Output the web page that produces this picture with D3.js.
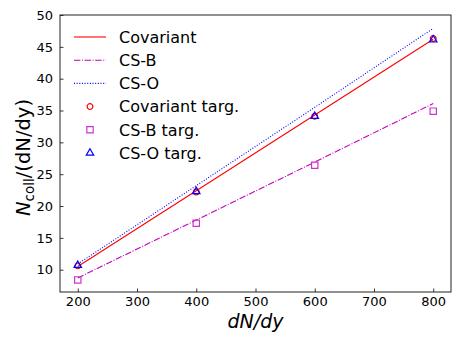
<!DOCTYPE html>
<html>
<head>
<meta charset="utf-8">
<script src="https://cdn.jsdelivr.net/npm/d3@7"></script>
<style>
  body { margin: 0; background: #fff; }
  text { font-family: "DejaVu Sans", sans-serif; }
</style>
</head>
<body>
<script>
// values
const xVals = [200, 400, 600, 800];
const covariantLine = [10.5, 22.4, 34.3, 46.2];
const csbLine = [8.7, 17.8, 26.9, 36.1];
const csoLine = [10.9, 23.2, 35.5, 47.9];
const covariantTarg = [10.6, 22.2, 34.1, 46.3];
const csbTarg = [8.4, 17.3, 26.4, 34.9];
const csoTarg = [10.7, 22.3, 34.1, 46.1];
const xTicks = [200, 300, 400, 500, 600, 700, 800];
const yTicks = [10, 15, 20, 25, 30, 35, 40, 45, 50];

const W = 463, H = 347;
const margin = {top: 15, left: 60, right: 12, bottom: 55};
const width = W - margin.left - margin.right;
const height = H - margin.top - margin.bottom;

const svg = d3.select("body").append("svg")
    .attr("width", W)
    .attr("height", H);
const g = svg.append("g")
    .attr("transform", "translate(" + margin.left + "," + margin.top + ")");

const x = d3.scaleLinear().domain([170, 830]).range([0, width]);
const y = d3.scaleLinear().domain([6.5, 50]).range([height, 0]);

// axes, ticks pointing in
const xAxis = d3.axisBottom(x).tickValues(xTicks).tickSize(-3.5).tickPadding(5);
const yAxis = d3.axisLeft(y).tickValues(yTicks).tickSize(-3.5).tickPadding(7);

g.append("g").attr("transform", "translate(0," + height + ")").call(xAxis)
  .call(a => a.select(".domain").remove())
  .call(a => a.selectAll("text").attr("font-size", 13).attr("fill", "#000").attr("font-family", "DejaVu Sans"));
g.append("g").call(yAxis)
  .call(a => a.select(".domain").remove())
  .call(a => a.selectAll("text").attr("font-size", 13).attr("fill", "#000").attr("font-family", "DejaVu Sans"));
g.selectAll(".tick line").attr("stroke", "#000").attr("stroke-width", 0.8);

g.append("rect")
  .attr("x", 0).attr("y", 0).attr("width", width).attr("height", height)
  .attr("fill", "none").attr("stroke", "#222").attr("stroke-width", 1);

const series = [
  {name: "Covariant", vals: covariantLine, color: "#ff0000", dash: null},
  {name: "CS-B", vals: csbLine, color: "#c000c0", dash: "6.4,1.6,1,1.6"},
  {name: "CS-O", vals: csoLine, color: "#0000ff", dash: "1,1.65"}
];

const line = d3.line().x(d => x(d[0])).y(d => y(d[1]));
series.forEach(s => {
  g.append("path")
    .datum(xVals.map((v, i) => [v, s.vals[i]]))
    .attr("d", line)
    .attr("fill", "none")
    .attr("stroke", s.color)
    .attr("stroke-width", 1.1)
    .attr("stroke-dasharray", s.dash);
});

const targs = [
  {name: "Covariant targ.", vals: covariantTarg, color: "#ff0000", sym: d3.symbolCircle, size: 26},
  {name: "CS-B targ.", vals: csbTarg, color: "#cc33cc", sym: d3.symbolSquare, size: 40},
  {name: "CS-O targ.", vals: csoTarg, color: "#0000ff", sym: d3.symbolTriangle, size: 24}
];

targs.forEach(t => {
  g.selectAll(null)
    .data(xVals.map((v, i) => [v, t.vals[i]]))
    .enter().append("path")
    .attr("d", d3.symbol().type(t.sym).size(t.size))
    .attr("transform", d => "translate(" + x(d[0]) + "," + y(d[1]) + ")")
    .attr("fill", "none")
    .attr("stroke", t.color)
    .attr("stroke-width", 1.2);
});

// legend
const leg = svg.append("g").attr("transform", "translate(74,37)");
const rowH = 23.2;
series.forEach((s, i) => {
  leg.append("line")
    .attr("x1", 0).attr("x2", 32).attr("y1", i * rowH).attr("y2", i * rowH)
    .attr("stroke", s.color).attr("stroke-width", 1.1)
    .attr("stroke-dasharray", s.dash);
  leg.append("text").attr("x", 45).attr("y", i * rowH).attr("dy", "0.36em")
    .attr("font-size", 16).text(s.name);
});
targs.forEach((t, j) => {
  const i = j + 3;
  leg.append("path")
    .attr("d", d3.symbol().type(t.sym).size(t.size))
    .attr("transform", "translate(16," + (i * rowH) + ")")
    .attr("fill", "none").attr("stroke", t.color).attr("stroke-width", 1.2);
  leg.append("text").attr("x", 45).attr("y", i * rowH).attr("dy", "0.36em")
    .attr("font-size", 16).text(t.name);
});

// axis labels
svg.append("text")
  .attr("x", margin.left + width / 2).attr("y", 328)
  .attr("text-anchor", "middle").attr("font-size", 19)
  .attr("font-style", "italic").text("dN/dy");

const yl = svg.append("text")
  .attr("transform", "translate(30," + (margin.top + height / 2 + 4) + ") rotate(-90)")
  .attr("text-anchor", "middle").attr("font-size", 19.5);
yl.append("tspan").attr("font-style", "italic").text("N");
yl.append("tspan").attr("font-size", 13.5).attr("dy", 4).text("coll");
yl.append("tspan").attr("dy", -4).text("/(dN/dy)");
</script>
</body>
</html>
